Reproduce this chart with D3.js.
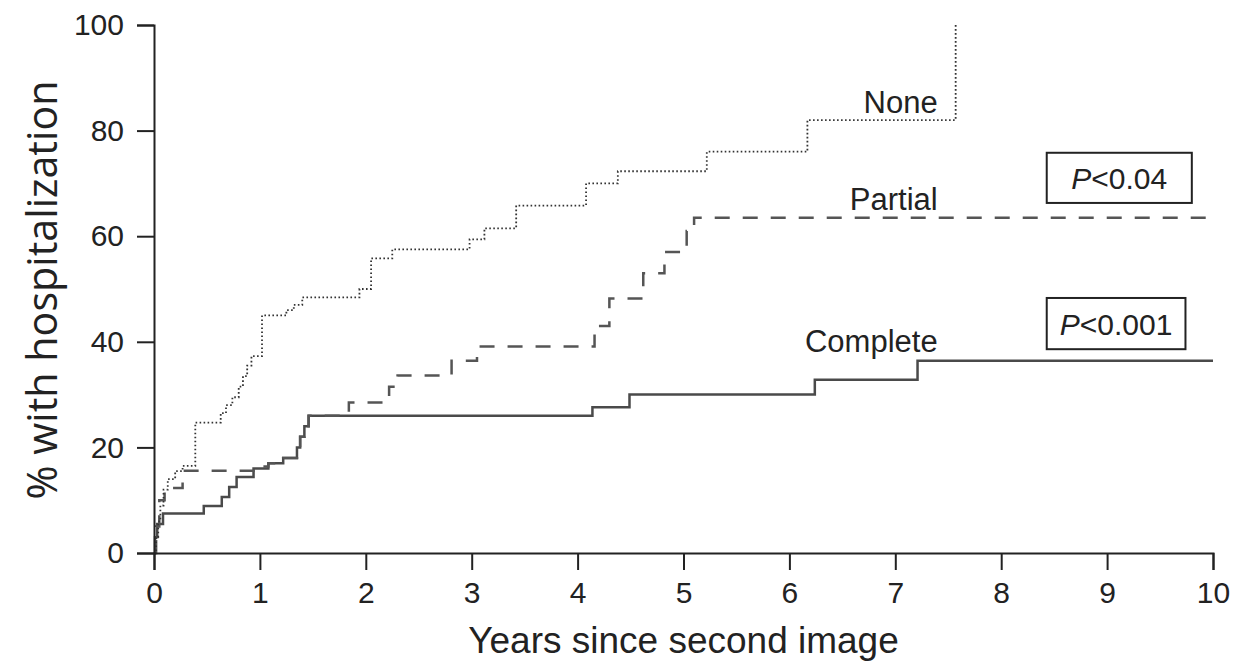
<!DOCTYPE html>
<html lang="en">
    <head>
        <meta charset="utf-8">
        <title>Hospitalization by resection</title>
        <style type="text/css">
            body { margin: 0; background: #fff; }
            text { font-family: "Liberation Sans", Arial, sans-serif; fill: #222; }
        </style>
    </head>
    <body>

<script src="https://cdn.jsdelivr.net/npm/d3@7"></script>

<script>

    var w = 1247;
    var h = 662;

    // step points: [years, % with hospitalization]
    var noneData = [[0,0],[0.02,3],[0.04,6],[0.06,9],[0.09,12],[0.13,14],[0.2,15.5],[0.27,16.5],
        [0.39,24.7],[0.63,26.5],[0.68,28],[0.74,29.5],[0.8,31.5],[0.84,33.5],[0.88,35.5],[0.92,37.3],
        [1.02,45],[1.25,46],[1.32,47],[1.40,48.4],[1.94,50],[2.05,55.8],[2.25,57.5],[2.98,59.4],
        [3.12,61.5],[3.42,65.8],[4.08,70],[4.38,72.3],[5.22,76],[6.17,82],[7.57,100]];

    var partialData = [[0,0],[0.02,5],[0.05,10],[0.1,12.3],[0.27,15.6],[1.0,16.4],[1.08,17],[1.22,18],
        [1.35,20],[1.38,22],[1.42,24],[1.46,26],[1.84,28.5],[2.22,31.5],[2.3,33.6],[2.81,36.4],
        [3.05,39.1],[4.16,43],[4.3,48.2],[4.62,53],[4.82,57],[5.03,61],[5.1,63.5],[10,63.5]];

    var completeData = [[0,0],[0.01,3],[0.03,5.5],[0.085,7.5],[0.47,8.9],[0.64,10.6],[0.71,12.5],
        [0.78,14.4],[0.94,16],[1.08,17],[1.22,18],[1.35,20],[1.38,22],[1.42,24],[1.46,26],
        [4.14,27.6],[4.49,30],[6.24,32.8],[7.21,36.4],[10,36.4]];

    var seriesNames = ["None", "Partial", "Complete"];
    var pValues = ["<0.04", "<0.001"];
    var xTicks = [0,1,2,3,4,5,6,7,8,9,10];
    var yTicks = [0,20,40,60,80,100];

    var x = d3.scaleLinear().domain([0, 10]).range([154, 1213]);
    var y = d3.scaleLinear().domain([0, 100]).range([553, 25]);

    var svg = d3.select("body")
            .append("svg")
            .attr("width", w)
            .attr("height", h);

    var line = d3.line()
            .x(function(d){ return x(d[0]); })
            .y(function(d){ return y(d[1]); })
            .curve(d3.curveStepAfter);

    //curves
    svg.append("path").datum(completeData)
        .attr("d", line).attr("fill", "none")
        .attr("stroke", "#4a4a4a").attr("stroke-width", 2.5);

    svg.append("path").datum(partialData)
        .attr("d", line).attr("fill", "none")
        .attr("stroke", "#555").attr("stroke-width", 2.5)
        .attr("stroke-dasharray", "15,13");

    svg.append("path").datum(noneData)
        .attr("d", line).attr("fill", "none")
        .attr("stroke", "#333").attr("stroke-width", 1.8)
        .attr("stroke-dasharray", "1.6,2.4");

    //axes
    var xAxis = svg.append("g")
        .attr("transform", "translate(0," + y(0) + ")")
        .call(d3.axisBottom(x).tickValues(xTicks).tickSize(17).tickPadding(12));

    var yAxis = svg.append("g")
        .attr("transform", "translate(" + x(0) + ",0)")
        .call(d3.axisLeft(y).tickValues(yTicks).tickSize(17).tickPadding(13));

    svg.selectAll(".domain, .tick line").attr("stroke", "#222").attr("stroke-width", 2);
    svg.selectAll(".tick text")
        .style("font-family", "'Liberation Sans', Arial, sans-serif")
        .attr("font-size", 30).attr("fill", "#222");

    //axis titles
    svg.append("text")
        .attr("x", (x(0) + x(10)) / 2)
        .attr("y", 653)
        .attr("text-anchor", "middle")
        .attr("font-size", 37)
        .text("Years since second image");

    var yTitle = svg.append("text")
        .attr("transform", "translate(57," + ((y(0) + y(100)) / 2 + 1) + ") rotate(-90)")
        .attr("text-anchor", "middle")
        .style("font-family", "'Open Sans', 'Noto Sans', sans-serif")
        .attr("font-size", 36)
        .text("% with hospitalization");
    // fit to the same length as in the figure
    var len = yTitle.node().getComputedTextLength();
    yTitle.attr("font-size", 36 * 419 / len);

    //curve labels
    var labelPos = [[7.4, 83.3], [7.4, 65], [7.4, 38.1]];
    svg.selectAll(".lab")
        .data(seriesNames)
        .enter()
        .append("text")
        .attr("class", "lab")
        .attr("x", function(d, i){ return x(labelPos[i][0]); })
        .attr("y", function(d, i){ return y(labelPos[i][1]); })
        .attr("text-anchor", "end")
        .attr("font-size", 31)
        .text(function(d){ return d; });

    //p value boxes
    var boxPos = [[8.43, 9.80, 75.8, 66.3], [8.43, 9.74, 48.3, 38.6]];
    pValues.forEach(function(p, i){
        var b = boxPos[i];
        svg.append("rect")
            .attr("x", x(b[0])).attr("y", y(b[2]))
            .attr("width", x(b[1]) - x(b[0]))
            .attr("height", y(b[3]) - y(b[2]))
            .attr("fill", "none").attr("stroke", "#222").attr("stroke-width", 2);
        var t = svg.append("text")
            .attr("x", (x(b[0]) + x(b[1])) / 2)
            .attr("y", (y(b[2]) + y(b[3])) / 2 + 11)
            .attr("text-anchor", "middle")
            .attr("font-size", 30);
        t.append("tspan").attr("font-style", "italic").text("P");
        t.append("tspan").text(p);
    });

</script>

    </body>
</html>
